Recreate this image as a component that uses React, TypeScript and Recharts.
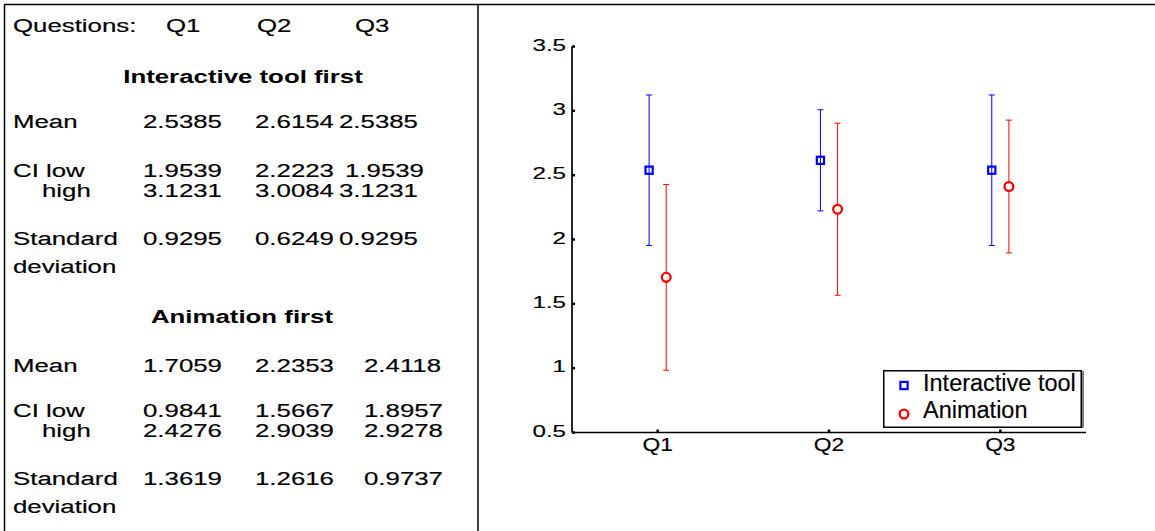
import { ScatterChart, Scatter, XAxis, YAxis, ErrorBar, Legend } from 'recharts'

const questions = ['Q1', 'Q2', 'Q3']

const toolMean = [2.5385, 2.6154, 2.5385]
const toolCiLow = [1.9539, 2.2223, 1.9539]
const toolCiHigh = [3.1231, 3.0084, 3.1231]
const toolSd = [0.9295, 0.6249, 0.9295]

const animMean = [1.7059, 2.2353, 2.4118]
const animCiLow = [0.9841, 1.5667, 1.8957]
const animCiHigh = [2.4276, 2.9039, 2.9278]
const animSd = [1.3619, 1.2616, 0.9737]

const yTicks = [0.5, 1, 1.5, 2, 2.5, 3, 3.5]
const xTicks = [1, 2, 3]

const FONT = '"Liberation Sans", Arial, sans-serif'
const BLUE = '#0000ff'
const RED = '#ff0000'
const INK = 0.18 // a touch of stroke so the text is as heavy as the reference

// means with asymmetric CI bars, nudged left/right of each question
const toolData = questions.map((q, i) => ({
  q,
  x: i + 1 - 0.05,
  y: toolMean[i],
  err: [toolMean[i] - toolCiLow[i], toolCiHigh[i] - toolMean[i]],
}))
const animData = questions.map((q, i) => ({
  q,
  x: i + 1 + 0.05,
  y: animMean[i],
  err: [animMean[i] - animCiLow[i], animCiHigh[i] - animMean[i]],
}))

const fmt = (v: number) => v.toFixed(4)

function SquareDot({ cx, cy }: any) {
  return <rect x={cx - 3.6} y={cy - 3.6} width={7.2} height={7.2} fill="none" stroke={BLUE} strokeWidth={2.2} />
}

function CircleDot({ cx, cy }: any) {
  return <circle cx={cx} cy={cy} r={4.4} fill="#fff" stroke={RED} strokeWidth={2.3} />
}

function YTick({ x, y, payload }: any) {
  return (
    <text
      transform={`translate(${x},${y + 4}) scale(1.42,1)`}
      textAnchor="end"
      fontSize={17}
      fontFamily={FONT}
      fill="#000"
      stroke="#000"
      strokeWidth={INK}
    >
      {payload.value}
    </text>
  )
}

function XTick({ x, y, payload }: any) {
  return (
    <text
      transform={`translate(${x},${y + 15}) scale(1.2,1)`}
      textAnchor="middle"
      fontSize={19}
      fontFamily={FONT}
      fill="#000"
      stroke="#000"
      strokeWidth={INK}
    >
      {questions[payload.value - 1]}
    </text>
  )
}

function LegendBox() {
  const txt = { fontSize: 23.5, fontFamily: FONT, fill: '#000', stroke: '#000', strokeWidth: 0.15 }
  return (
    <svg width={201} height={60} style={{ display: 'block' }}>
      <rect x={0.75} y={0.75} width={197.5} height={56.5} fill="#fff" stroke="#000" strokeWidth={1.5} />
      <line x1={200} y1={1} x2={200} y2={58} stroke="#000" strokeWidth={1} />
      <rect x={17.4} y={11.9} width={7.2} height={7.2} fill="none" stroke={BLUE} strokeWidth={2.2} />
      <circle cx={21} cy={44} r={4.4} fill="#fff" stroke={RED} strokeWidth={2.3} />
      <text x={40} y={21} {...txt}>Interactive tool</text>
      <text x={40} y={48} {...txt}>Animation</text>
    </svg>
  )
}

function T({ x, y, children, bold, anchor }: any) {
  return (
    <text
      transform={`translate(${x},${y}) scale(1.36,1)`}
      fontSize={19}
      fontFamily={FONT}
      fontWeight={bold ? 'bold' : 'normal'}
      textAnchor={anchor || 'start'}
      fill="#000"
      stroke="#000"
      strokeWidth={bold ? 0 : INK}
    >
      {children}
    </text>
  )
}

function ValueRow({ values, xs, y }: { values: number[]; xs: number[]; y: number }) {
  return (
    <>
      {values.map((v, i) => (
        <T key={i} x={xs[i]} y={y}>{fmt(v)}</T>
      ))}
    </>
  )
}

function StatsTable() {
  const toolCols = [143, 255, 339]
  const animCols = [143, 255, 364]
  return (
    <svg width={478} height={531} style={{ position: 'absolute', left: 0, top: 0 }}>
      <T x={13} y={32}>Questions:</T>
      <T x={166} y={32}>{questions[0]}</T>
      <T x={257} y={32}>{questions[1]}</T>
      <T x={355} y={32}>{questions[2]}</T>

      <T x={243} y={83} bold anchor="middle">Interactive tool first</T>
      <T x={13} y={128}>Mean</T>
      <ValueRow values={toolMean} xs={toolCols} y={128} />
      <T x={13} y={177}>CI low</T>
      <ValueRow values={toolCiLow} xs={[143, 255, 345]} y={177} />
      <T x={42} y={197}>high</T>
      <ValueRow values={toolCiHigh} xs={toolCols} y={197} />
      <T x={13} y={245}>Standard</T>
      <ValueRow values={toolSd} xs={toolCols} y={245} />
      <T x={13} y={273}>deviation</T>

      <T x={242} y={323} bold anchor="middle">Animation first</T>
      <T x={13} y={372}>Mean</T>
      <ValueRow values={animMean} xs={animCols} y={372} />
      <T x={13} y={417}>CI low</T>
      <ValueRow values={animCiLow} xs={animCols} y={417} />
      <T x={42} y={437}>high</T>
      <ValueRow values={animCiHigh} xs={animCols} y={437} />
      <T x={13} y={485}>Standard</T>
      <ValueRow values={animSd} xs={animCols} y={485} />
      <T x={13} y={513}>deviation</T>
    </svg>
  )
}

export default function App() {
  const axisLine = { stroke: '#000', strokeWidth: 1.7 }
  const tickLine = { stroke: '#000', strokeWidth: 2.5 }
  return (
    <div style={{ position: 'relative', width: 1155, height: 531, background: '#fff', fontFamily: FONT }}>
      <style>{`body{margin:0;background:#fff}`}</style>
      <StatsTable />
      <div style={{ position: 'absolute', left: 480, top: 0 }}>
        <ScatterChart width={675} height={531} margin={{ top: 46.5, right: 69, bottom: 68.5, left: 32 }}>
          <XAxis
            type="number"
            dataKey="x"
            domain={[0.5, 3.5]}
            ticks={xTicks}
            allowDataOverflow
            height={30}
            tickSize={-3}
            tickMargin={6}
            axisLine={axisLine}
            tickLine={tickLine}
            tick={<XTick />}
          />
          <XAxis
            xAxisId="top"
            orientation="top"
            type="number"
            domain={[0.5, 3.5]}
            ticks={xTicks}
            allowDataOverflow
            height={0}
            tickSize={-3}
            axisLine={axisLine}
            tickLine={tickLine}
            tick={false}
          />
          <YAxis
            type="number"
            dataKey="y"
            domain={[0.5, 3.5]}
            ticks={yTicks}
            allowDataOverflow
            width={60}
            tickSize={-3}
            tickMargin={9}
            axisLine={axisLine}
            tickLine={tickLine}
            tick={<YTick />}
          />
          <YAxis
            yAxisId="right"
            orientation="right"
            type="number"
            domain={[0.5, 3.5]}
            ticks={yTicks}
            allowDataOverflow
            width={0}
            tickSize={-3}
            axisLine={axisLine}
            tickLine={tickLine}
            tick={false}
          />
          <Scatter name="Interactive tool" data={toolData} dataKey="y" shape={<SquareDot />} isAnimationActive={false}>
            <ErrorBar dataKey="err" direction="y" width={3} stroke={BLUE} strokeWidth={1} isAnimationActive={false} />
          </Scatter>
          <Scatter name="Animation" data={animData} dataKey="y" shape={<CircleDot />} isAnimationActive={false}>
            <ErrorBar dataKey="err" direction="y" width={3} stroke={RED} strokeWidth={1} isAnimationActive={false} />
          </Scatter>
          <Legend
            layout="vertical"
            align="center"
            verticalAlign="middle"
            content={() => <LegendBox />}
            wrapperStyle={{ left: 403, top: 370, width: 201, height: 60 }}
          />
        </ScatterChart>
      </div>
      <svg width={1155} height={531} style={{ position: 'absolute', left: 0, top: 0, pointerEvents: 'none' }}>
        <line x1={4} y1={4.5} x2={1155} y2={4.5} stroke="#000" strokeWidth={1.5} />
        <line x1={4.5} y1={4} x2={4.5} y2={531} stroke="#000" strokeWidth={1.5} />
        <line x1={478} y1={4} x2={478} y2={531} stroke="#000" strokeWidth={1.5} />
      </svg>
    </div>
  )
}
